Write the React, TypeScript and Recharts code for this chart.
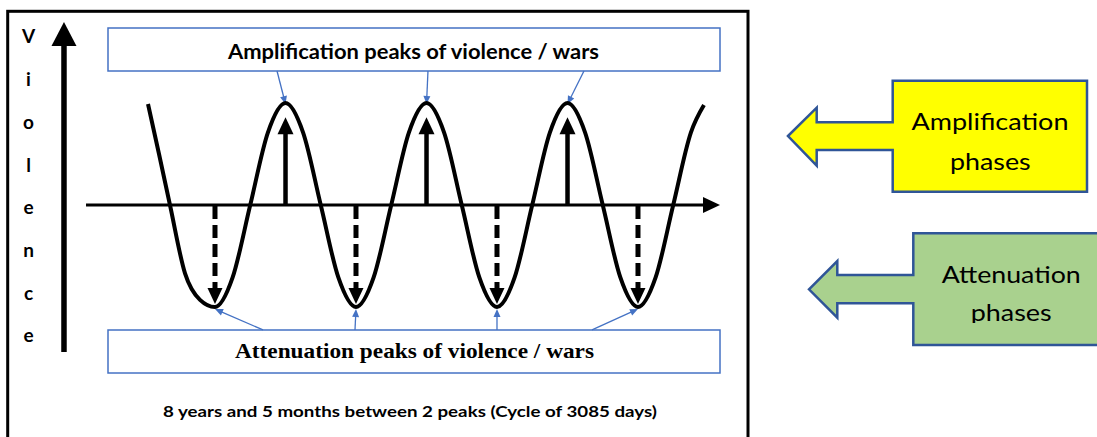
import React from "react";
import { LineChart, Line, XAxis, YAxis, ReferenceLine } from "recharts";

// wave: x in days (one cycle = 3085 days), y = violence level
const waveDays = [
  -1466, -1225, -985, -656, -328, 0, 386, 771, 1157, 1543, 1928, 2314, 2699, 3085,
  3471, 3856, 4242, 4628, 5013, 5399, 5784, 6170, 6556, 6941, 7327, 7713, 8098,
  8484, 8869, 9255, 9641, 10026, 10412, 10699,
];
const waveViolence = [
  0.99, 0.5, 0, -0.67, -0.93, -1, -0.71, 0, 0.71, 1, 0.71, 0, -0.71, -1, -0.71, 0,
  0.71, 1, 0.71, 0, -0.71, -1, -0.71, 0, 0.71, 1, 0.71, 0, -0.71, -1, -0.71, 0, 0.71,
  0.98,
];

const peakDays = [1543, 4628, 7713];
const troughDays = [0, 3085, 6170, 9255];
const peakArrowTop = 0.86;
const troughArrowBottom = -0.97;

// callout arrows from the two label boxes
const topCalloutFrom = [1357, 4660, 8073];
const bottomCalloutFrom = [1050, 3063, 6170, 8249];
const topBoxEdge = 1.314;
const bottomBoxEdge = -1.225;

const yAxisLetters = ["V", "i", "o", "l", "e", "n", "c", "e"];

const W = 1097;
const H = 437;
const SANS = "Lato, 'Open Sans', sans-serif";
const SERIF = "'Liberation Serif', 'DejaVu Serif', serif";
const BLUE = "#4472C4";
const DARKBLUE = "#2F5597";

const data = waveDays.map((d, i) => ({ day: d, v: waveViolence[i] }));

function arrow(color: string, width: number, headLen: number, headW: number, dash?: string) {
  return (p: any) => {
    const { x1, y1, x2, y2 } = p;
    const dx = x2 - x1;
    const dy = y2 - y1;
    const len = Math.sqrt(dx * dx + dy * dy) || 1;
    const ux = dx / len;
    const uy = dy / len;
    const bx = x2 - ux * headLen;
    const by = y2 - uy * headLen;
    const px = -uy * (headW / 2);
    const py = ux * (headW / 2);
    return (
      <g>
        <line
          x1={x1}
          y1={y1}
          x2={bx + ux * 1}
          y2={by + uy * 1}
          stroke={color}
          strokeWidth={width}
          strokeDasharray={dash}
        />
        <polygon
          points={`${x2},${y2} ${bx + px},${by + py} ${bx - px},${by - py}`}
          fill={color}
        />
      </g>
    );
  };
}

function Decorations() {
  const letterBase = [42.7, 86, 128.5, 172, 213.5, 256.7, 300, 341.7];
  return (
    <svg width={W} height={H} style={{ position: "absolute", left: 0, top: 0 }}>
      <defs>
        <clipPath id="greenClip">
          <rect x={900} y={220} width={220} height={103} />
        </clipPath>
      </defs>
      <rect x={7.7} y={11.3} width={740.3} height={440} fill="none" stroke="#000" strokeWidth={3} />
      <rect x={108} y={28} width={612} height={43} fill="#fff" stroke={BLUE} strokeWidth={1.5} />
      <text x={228} y={58.5} textLength={371} lengthAdjust="spacingAndGlyphs"
        fontFamily={SANS} fontWeight={700} fontSize={21} fill="#000">
        Amplification peaks of violence / wars
      </text>
      <rect x={108} y={330} width={612} height={43} fill="#fff" stroke={BLUE} strokeWidth={1.5} />
      <text x={235} y={358.3} textLength={359} lengthAdjust="spacingAndGlyphs"
        fontFamily={SERIF} fontWeight={700} fontSize={22} fill="#000">
        Attenuation peaks of violence / wars
      </text>
      <text x={163} y={416.7} textLength={494} lengthAdjust="spacingAndGlyphs"
        fontFamily={SANS} fontWeight={700} fontSize={16} fill="#000">
        8 years and 5 months between 2 peaks (Cycle of 3085 days)
      </text>
      {yAxisLetters.map((l, i) => (
        <text key={i} x={28.5} y={letterBase[i]} textAnchor="middle"
          fontFamily={SANS} fontWeight={700} fontSize={19} fill="#000">
          {l}
        </text>
      ))}
      <polygon
        points="788,136 816.7,107.7 816.7,122.3 892.7,122.3 892.7,80.7 1087,80.7 1087,191.7 892.7,191.7 892.7,150 816.7,150 816.7,165.7"
        fill="#FFFF00" stroke={DARKBLUE} strokeWidth={2.5} strokeLinejoin="miter" />
      <text x={911.5} y={130} textLength={157} lengthAdjust="spacingAndGlyphs"
        fontFamily={SANS} fontSize={23} fill="#000">Amplification</text>
      <text x={950} y={170} textLength={80.7} lengthAdjust="spacingAndGlyphs"
        fontFamily={SANS} fontSize={23} fill="#000">phases</text>
      <polygon
        points="809,289.3 837.3,261 837.3,275 913.3,275 913.3,233.3 1110,233.3 1110,345 913.3,345 913.3,303.3 837.3,303.3 837.3,317.7"
        fill="#A9D18E" stroke={DARKBLUE} strokeWidth={2.5} strokeLinejoin="miter" />
      <text x={941.7} y={282.7} textLength={139} lengthAdjust="spacingAndGlyphs"
        fontFamily={SANS} fontSize={23} fill="#000">Attenuation</text>
      <g clipPath="url(#greenClip)">
        <text x={970.7} y={320.7} textLength={81} lengthAdjust="spacingAndGlyphs"
          fontFamily={SANS} fontSize={23} fill="#000">phases</text>
      </g>
    </svg>
  );
}

export default function App() {
  return (
    <div style={{ position: "absolute", left: 0, top: 0, width: W, height: H, background: "#fff" }}>
      <Decorations />
      <div style={{ position: "absolute", left: 0, top: 0 }}>
        <LineChart width={W} height={H} data={data} margin={{ top: 0, right: 0, bottom: 0, left: 0 }}>
          <XAxis dataKey="day" type="number" domain={[-4704, 19298]} allowDataOverflow hide />
          <YAxis type="number" domain={[-2.2745, 2.0098]} allowDataOverflow hide />
          {/* axes drawn as arrows */}
          <ReferenceLine segment={[{ x: -2822, y: 0 }, { x: 11049, y: 0 }]} shape={arrow("#000", 3.2, 17, 16)} />
          <ReferenceLine segment={[{ x: -3304, y: -1.441 }, { x: -3304, y: 1.794 }]} shape={arrow("#000", 5.5, 24, 25)} />
          {peakDays.map((d) => (
            <ReferenceLine key={`p${d}`} segment={[{ x: d, y: 0 }, { x: d, y: peakArrowTop }]}
              shape={arrow("#000", 4.5, 17, 16)} />
          ))}
          {troughDays.map((d) => (
            <ReferenceLine key={`t${d}`} segment={[{ x: d, y: -0.01 }, { x: d, y: troughArrowBottom }]}
              shape={arrow("#000", 5, 16, 15, "13 6")} />
          ))}
          {peakDays.map((d, i) => (
            <ReferenceLine key={`cp${d}`} segment={[{ x: topCalloutFrom[i], y: topBoxEdge }, { x: d, y: 0.99 }]}
              shape={arrow(BLUE, 1.3, 8, 7)} />
          ))}
          {troughDays.map((d, i) => (
            <ReferenceLine key={`ct${d}`} segment={[{ x: bottomCalloutFrom[i], y: bottomBoxEdge }, { x: d, y: -1.02 }]}
              shape={arrow(BLUE, 1.3, 8, 7)} />
          ))}
          <Line
            type="monotone"
            dataKey="v"
            stroke="#000"
            strokeWidth={4}
            strokeLinecap="butt"
            strokeDasharray="none"
            dot={false}
            activeDot={false}
            isAnimationActive={false}
          />
        </LineChart>
      </div>
    </div>
  );
}
